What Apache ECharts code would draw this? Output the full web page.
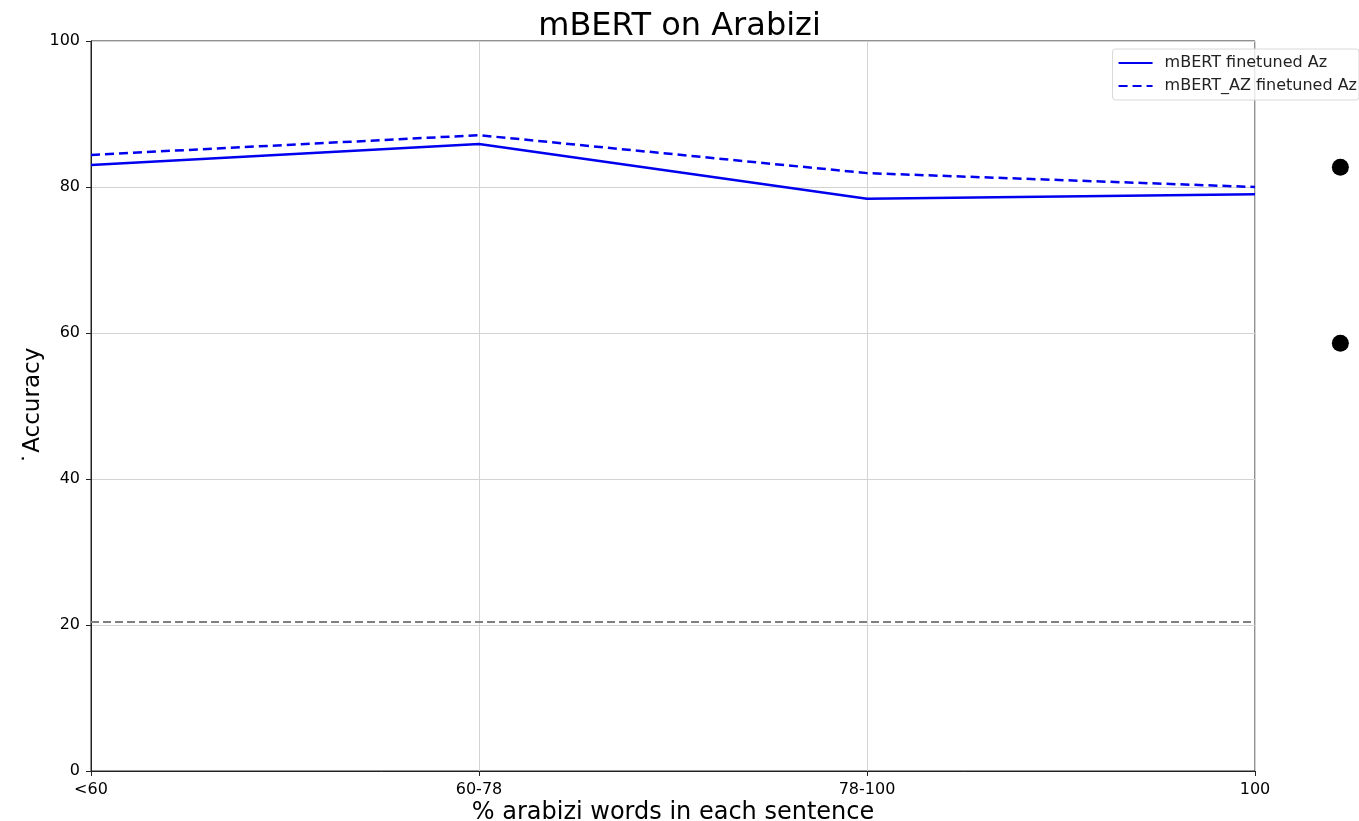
<!DOCTYPE html>
<html>
<head>
<meta charset="utf-8">
<script src="https://cdn.jsdelivr.net/npm/echarts@6/dist/echarts.min.js"></script>
<style>
  html, body { margin: 0; padding: 0; background: #fff; overflow: hidden; }
  #chart { width: 1359px; height: 821px; }
</style>
</head>
<body>
<div id="chart"></div>
<script>
// Sentence buckets by share of arabizi words
const categories = ['<60', '60-78', '78-100', '100'];
// Accuracy per bucket
const mbertAz = [83.0, 85.9, 78.4, 79.0];
const mbertAzAz = [84.4, 87.1, 81.9, 80.0];
// Baseline accuracy (horizontal reference)
const baseline = 20.4;
// Two stray markers drawn past the last bucket
const dotX = 3.22;
const dotValues = [82.7, 58.6];
const yTicks = [0, 20, 40, 60, 80, 100];

const font = 'DejaVu Sans';
const pairs = arr => arr.map((v, i) => [i, v]);

const chart = echarts.init(document.getElementById('chart'), null, {
  renderer: 'canvas', width: 1359, height: 821
});
chart.setOption({
  animation: false,
  backgroundColor: '#ffffff',
  title: {
    text: 'mBERT on Arabizi',
    left: 'center',
    top: 6,
    textStyle: { fontFamily: font, fontSize: 32, fontWeight: 'normal', color: '#000' }
  },
  grid: {
    left: 91, right: 104, top: 41, bottom: 50,
    outerBoundsMode: 'none',
    containLabel: false,
    show: true, borderColor: '#222', borderWidth: 1, backgroundColor: 'transparent'
  },
  legend: {
    right: 0, top: 49,
    orient: 'vertical',
    itemWidth: 34, itemHeight: 12, itemGap: 7,
    padding: [6, 2, 6, 5],
    borderColor: '#d8d8d8', borderWidth: 1, borderRadius: 3,
    backgroundColor: 'rgba(255,255,255,0.8)',
    itemStyle: { opacity: 0 },
    textStyle: { fontFamily: font, fontSize: 16, color: '#222', padding: [0, 0, 0, 7] },
    data: ['mBERT finetuned Az', 'mBERT_AZ finetuned Az']
  },
  xAxis: {
    type: 'value',
    min: 0, max: 3, interval: 1,
    name: '% arabizi words in each sentence',
    nameLocation: 'middle',
    nameMoveOverlap: false,
    nameGap: 30,
    nameTextStyle: { fontFamily: font, fontSize: 24, color: '#000' },
    axisLine: { show: true, lineStyle: { color: '#222', width: 1 } },
    axisTick: { show: true, length: 5, lineStyle: { color: '#222' } },
    axisLabel: {
      fontFamily: font, fontSize: 16, color: '#000', margin: 11,
      formatter: v => categories[Math.round(v)] ?? ''
    },
    splitLine: { show: true, lineStyle: { color: '#d3d3d3', width: 1 } }
  },
  yAxis: {
    type: 'value',
    min: 0, max: 100, interval: 20,
    name: '\u02D9Accuracy',
    nameLocation: 'middle',
    nameMoveOverlap: false,
    nameRotate: 90,
    nameGap: 46,
    nameTextStyle: { fontFamily: font, fontSize: 23, color: '#000' },
    axisLine: { show: true, lineStyle: { color: '#222', width: 1 } },
    axisTick: { show: true, length: 5, lineStyle: { color: '#222' } },
    axisLabel: {
      fontFamily: font, fontSize: 16, color: '#000', margin: 11,
      formatter: v => (yTicks.includes(v) ? String(v) : '')
    },
    splitLine: { show: true, lineStyle: { color: '#d3d3d3', width: 1 } }
  },
  series: [
    {
      name: 'baseline',
      type: 'line',
      data: [[0, baseline], [3, baseline]],
      showSymbol: false, symbol: 'none',
      lineStyle: { color: '#808080', width: 2, type: [8, 4] },
      z: 3
    },
    {
      name: 'mBERT finetuned Az',
      type: 'line',
      data: pairs(mbertAz),
      symbol: 'none',
      color: '#0000ee',
      lineStyle: { color: '#0000ee', width: 2.5 },
      z: 4
    },
    {
      name: 'mBERT_AZ finetuned Az',
      type: 'line',
      data: pairs(mbertAzAz),
      symbol: 'none',
      color: '#0000ee',
      lineStyle: { color: '#0000ee', width: 2.5, type: [9, 5] },
      z: 4
    },
    {
      name: 'markers',
      type: 'scatter',
      data: dotValues.map(v => [dotX, v]),
      symbol: 'circle',
      symbolSize: 17,
      clip: false,
      itemStyle: { color: '#000', opacity: 1 },
      z: 5
    }
  ]
});
</script>
</body>
</html>
